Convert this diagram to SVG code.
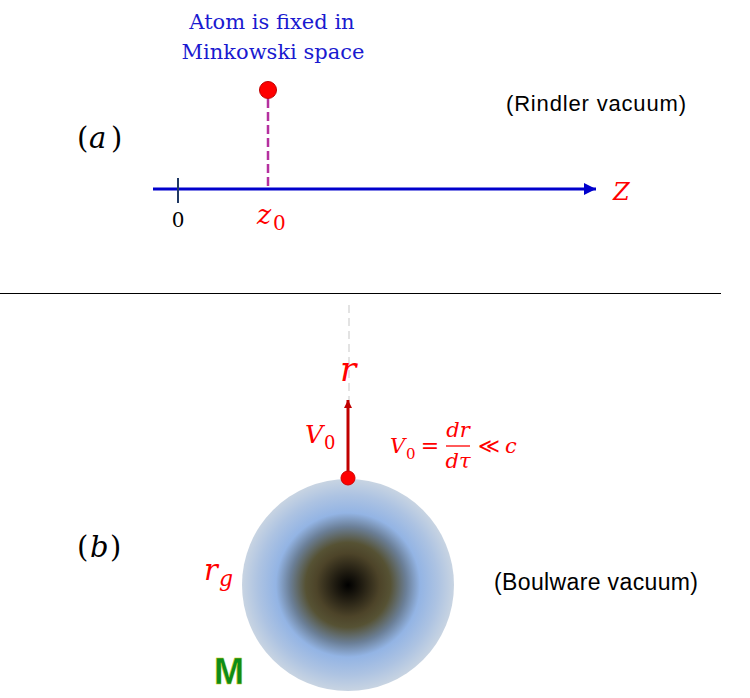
<svg xmlns="http://www.w3.org/2000/svg" width="750" height="698" viewBox="0 0 750 698">
<style>
.math{font-family:"DejaVu Serif","Liberation Serif",serif;font-style:italic}
.up{font-family:"DejaVu Serif","Liberation Serif",serif;font-style:normal}
.sans{font-family:"Liberation Sans",Arial,sans-serif}
.red{fill:#ff0000}
</style>
<defs>
<radialGradient id="bh" cx="0.5" cy="0.5" r="0.5">
<stop offset="0" stop-color="#000000"/>
<stop offset="0.12" stop-color="#1e1a10"/>
<stop offset="0.3" stop-color="#4d4429"/>
<stop offset="0.4" stop-color="#565234"/>
<stop offset="0.55" stop-color="#6b7f97"/>
<stop offset="0.68" stop-color="#93b4e4"/>
<stop offset="0.85" stop-color="#adc3e2"/>
<stop offset="1" stop-color="#c8d4e2"/>
</radialGradient>
<marker id="blueHead" viewBox="0 0 12 12" refX="12" refY="6" markerWidth="12" markerHeight="12" markerUnits="userSpaceOnUse" orient="auto">
<path d="M0,0 L12,6 L0,12 Z" fill="#0000cc"/>
</marker>
<marker id="redHead" viewBox="0 0 10 10" refX="10" refY="5" markerWidth="8" markerHeight="8" markerUnits="userSpaceOnUse" orient="auto">
<path d="M0,0 L10,5 L0,10 Z" fill="#c00000"/>
</marker>
</defs>
<rect width="750" height="698" fill="#ffffff"/>

<g id="connectors">
<line x1="153" y1="189" x2="596" y2="189" stroke="#0000cc" stroke-width="3" marker-end="url(#blueHead)"/>
<line x1="178" y1="178" x2="178" y2="203" stroke="#1f3864" stroke-width="2"/>
<line x1="268" y1="99" x2="268" y2="189" stroke="#b5309f" stroke-width="2.5" stroke-dasharray="9,4"/>
<line x1="0" y1="293.5" x2="721" y2="293.5" stroke="#000000" stroke-width="1"/>
<line x1="349" y1="305" x2="349" y2="400" stroke="#e3e3e3" stroke-width="2" stroke-dasharray="8,5"/>
<line x1="348" y1="475" x2="348" y2="400" stroke="#c00000" stroke-width="3" marker-end="url(#redHead)"/>
</g>

<g id="panel-a">
<text class="up" x="272" y="29" text-anchor="middle" font-size="21" fill="#1a1ad0">Atom is fixed in</text>
<text class="up" x="273" y="59" text-anchor="middle" font-size="21" fill="#1a1ad0">Minkowski space</text>
<circle id="atom-a" cx="268" cy="90" r="8.5" fill="#ff0000" stroke="#c00000" stroke-width="1"/>
<text class="sans" x="596" y="111" text-anchor="middle" font-size="22" fill="#000" textLength="180">(Rindler vacuum)</text>
<g id="label-a" fill="#000">
<text class="up" x="77" y="148" font-size="29">(</text>
<text class="math" x="89" y="148" font-size="29">a</text>
<text class="up" x="111" y="148" font-size="29">)</text>
</g>
<text class="up" x="178" y="227" text-anchor="middle" font-size="20" fill="#000">0</text>
<text class="math red" x="257" y="224" font-size="27">z</text>
<text class="up red" x="273" y="230" font-size="20">0</text>
<text class="math red" x="613" y="200" font-size="24">Z</text>
</g>

<g id="panel-b">
<circle id="mass" cx="348" cy="585" r="106" fill="url(#bh)"/>
<circle id="atom-b" cx="348" cy="478" r="7" fill="#ff0000" stroke="#d00000" stroke-width="1"/>
<text class="math red" x="340" y="381" font-size="34">r</text>
<text class="math red" x="305" y="443" font-size="25">V</text>
<text class="up red" x="324" y="449" font-size="18">0</text>
<g id="formula" fill="#ff0000">
<text class="math" x="390" y="453" font-size="21">V</text>
<text class="up" x="406" y="459" font-size="15">0</text>
<text class="up" x="430" y="453" text-anchor="middle" font-size="22">=</text>
<text class="math" x="458" y="437" text-anchor="middle" font-size="21">dr</text>
<line x1="446" y1="446" x2="470" y2="446" stroke="#ff0000" stroke-width="1.3"/>
<text class="math" x="458" y="468" text-anchor="middle" font-size="21">dτ</text>
<text class="up" x="489" y="453" text-anchor="middle" font-size="21">≪</text>
<text class="math" x="505" y="453" font-size="21">c</text>
</g>
<g id="label-b" fill="#000">
<text class="up" x="77" y="557" font-size="29">(</text>
<text class="math" x="90" y="557" font-size="29">b</text>
<text class="up" x="110" y="557" font-size="29">)</text>
</g>
<text class="math red" x="204" y="580" font-size="29">r</text>
<text class="math red" x="219" y="586" font-size="22">g</text>
<text class="sans" x="596" y="590" text-anchor="middle" font-size="23" fill="#000" textLength="204">(Boulware vacuum)</text>
<text class="sans" x="229" y="684" text-anchor="middle" font-size="36" font-weight="bold" fill="#0d8c1a" stroke="#c8c800" stroke-width="0.4">M</text>
</g>
</svg>
